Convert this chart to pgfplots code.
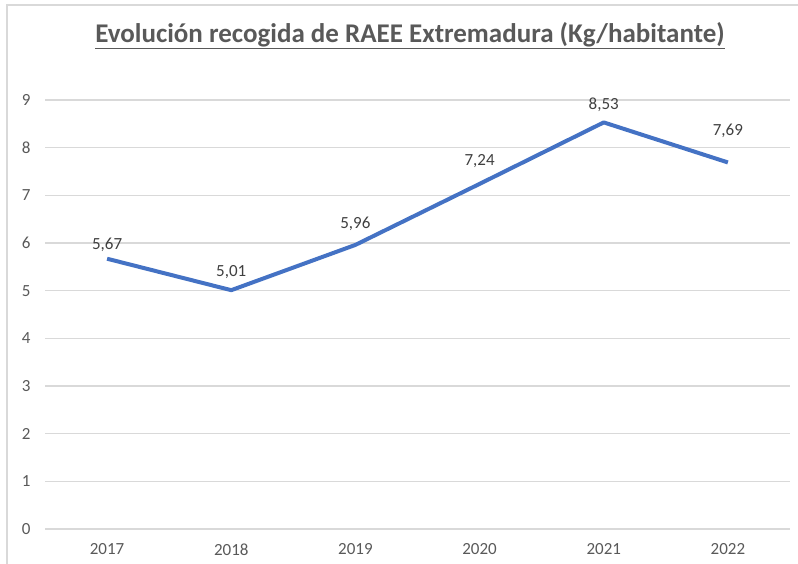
\documentclass[border=0pt]{standalone}
\usepackage{pgfplots}
\pgfplotsset{compat=1.18}
\usepackage{fontspec}
\setmainfont{Carlito}
\definecolor{linecol}{HTML}{4472C4}
\definecolor{gridcol}{HTML}{D9D9D9}
\definecolor{txtcol}{HTML}{595959}
\definecolor{lblcol}{HTML}{404040}

% x, value, label, label offset above the point (pt)
\pgfplotstableread{
x y lbl dy
0 5.67 5,67 15
1 5.01 5,01 20
2 5.96 5,96 22
3 7.24 7,24 24
4 8.53 8,53 19
5 7.69 7,69 33
}\datatable

\begin{document}
\begin{tikzpicture}[x=1pt,y=1pt]
\path[use as bounding box] (0,0) rectangle (798,564);
\draw[gridcol, line width=1.5pt] (7,0) -- (7,559) -- (798,559);
\node[text=txtcol, font=\fontsize{27}{27}\selectfont\bfseries] at (410,528)
  {\underline{Evolución recogida de RAEE Extremadura (Kg/habitante)}};
\begin{axis}[
    at={(45pt,35pt)}, anchor=south west,
    scale only axis,
    width=745pt, height=429pt,
    xmin=-0.5, xmax=5.5,
    ymin=0, ymax=9,
    xtick={0,...,5},
    xticklabels={2017,2018,2019,2020,2021,2022},
    ytick={0,...,9},
    ymajorgrids,
    grid style={gridcol, line width=1.5pt},
    axis line style={draw=none},
    major tick length=0pt,
    tick label style={text=txtcol, font=\fontsize{17}{17}\selectfont},
    xticklabel style={yshift=-11pt},
    yticklabel style={xshift=-11pt},
    /pgf/number format/assume math mode=true,
    clip=false,
]
\addplot[linecol, line width=4pt, line join=round,
    point meta=explicit symbolic,
    visualization depends on={\thisrow{dy} \as \dy},
    nodes near coords,
    nodes near coords style={text=lblcol, font=\fontsize{17}{17}\selectfont,
        anchor=base, inner sep=0pt, yshift=\dy pt-6pt},
] table[x=x, y=y, meta=lbl] {\datatable};
\end{axis}
\end{tikzpicture}
\end{document}
